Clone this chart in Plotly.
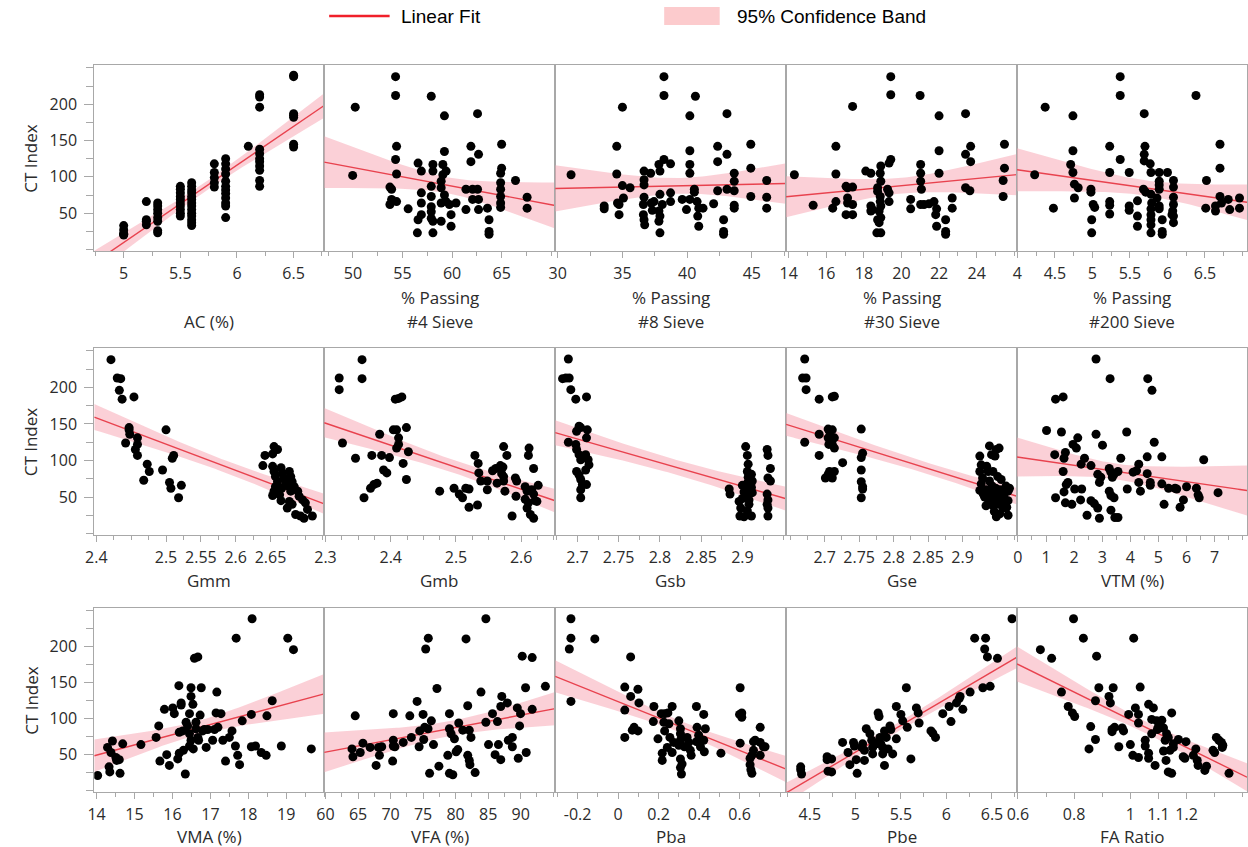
import numpy as np
import plotly.graph_objects as go

W, H = 1248, 847

# ---------------- data: (x, CT Index) pairs ----------------
AC = [(5.0,33),(5.0,27),(5.0,21),(5.0,20),(5.0,22),
      (5.2,66),(5.2,41),(5.2,39),(5.2,34),
      (5.3,64),(5.3,60),(5.3,55),(5.3,50),(5.3,44),(5.3,39),(5.3,26),(5.3,23),
      (5.5,87),(5.5,83),(5.5,78),(5.5,73),(5.5,69),(5.5,64),(5.5,60),(5.5,55),(5.5,50),(5.5,46),
      (5.6,92),(5.6,87),(5.6,82),(5.6,78),(5.6,73),(5.6,69),(5.6,64),(5.6,60),(5.6,55),(5.6,50),(5.6,46),(5.6,41),(5.6,37),(5.6,33),
      (5.8,118),(5.8,106),(5.8,99),(5.8,92),(5.8,86),
      (5.9,125),(5.9,118),(5.9,111),(5.9,104),(5.9,94),(5.9,87),(5.9,82),(5.9,77),(5.9,71),(5.9,64),(5.9,60),(5.9,44),
      (6.1,142),
      (6.2,213),(6.2,210),(6.2,196),(6.2,138),(6.2,132),(6.2,125),(6.2,121),(6.2,115),(6.2,109),(6.2,95),(6.2,87),
      (6.5,238),(6.5,240),(6.5,187),(6.5,185),(6.5,182),(6.5,145),(6.5,141)]

SIEVE4 = [(50.23,196),(49.97,102),(54.30,238),(54.30,212),(54.40,142),(54.30,124),(54.40,104),(53.73,86),(53.90,83),
          (53.73,62),(53.90,69),(54.40,66),(55.57,56),(56.50,23),(56.57,41),
          (56.57,119),(56.90,108),(56.90,78),(56.90,64),(56.90,48),
          (57.90,211),(58.07,117),(58.07,108),(57.90,87),(57.90,73),(57.90,59),(57.90,52),(57.90,43),(58.07,39),(58.07,23),
          (59.07,117),(59.07,103),(58.90,94),(58.90,85),(58.90,64),(58.90,39),
          (59.23,184),(59.23,135),(59.40,108),(59.23,75),(59.40,66),(59.73,62),(59.90,48),(59.90,32),
          (60.40,64),(61.40,83),(61.40,55),(61.90,142),(61.90,121),(62.07,83),(62.07,69),
          (62.57,187),(62.67,131),(62.57,83),(62.67,69),(62.67,55),
          (63.57,57),(63.73,41),(63.73,25),(63.73,21),
          (65.00,145),(65.00,112),(64.90,105),(64.90,92),(64.90,83),(64.90,73),(64.90,64),(64.90,58),
          (66.40,95),(67.57,72),(67.57,57)]

SIEVE8 = [(31.03,103),(33.59,60),(33.59,56),(34.56,142),(34.56,104),(34.62,64),(34.74,62),(34.74,48),(35.00,196),
          (35.00,88),(35.08,71),(35.59,85),(36.67,108),(36.67,96),(36.67,89),(36.67,72),(36.62,62),(36.62,48),
          (36.67,41),(36.72,34),(37.18,105),(37.23,64),(37.31,54),(37.44,66),(37.82,117),(37.90,108),(37.90,76),
          (37.82,53),(37.90,46),(37.82,39),(37.90,23),(38.08,62),(38.21,124),(38.21,238),(38.21,212),(38.72,118),
          (38.72,78),(38.72,66),(39.62,69),(39.95,55),(40.21,184),(40.21,136),(40.21,117),(40.21,105),(40.21,69),
          (40.64,211),(40.56,83),(40.56,79),(40.77,66),(40.90,57),(40.82,46),(40.90,32),(41.23,57),(42.05,63),
          (42.36,142),(42.36,121),(42.36,81),(42.82,41),(42.82,25),(42.82,21),(43.08,187),(43.08,131),(43.08,83),
          (43.64,105),(43.64,94),(43.64,81),(43.64,61),(43.64,57),(44.92,145),(44.92,112),(44.92,73),
          (46.15,95),(46.15,72),(46.15,57)]

SIEVE30 = [(14.30,103),(15.30,61),(16.34,57),(16.51,142),(16.51,104),(16.51,66),(17.05,87),(17.13,85),(17.40,86),
           (17.13,71),(17.13,64),(17.05,48),(17.40,62),(17.40,48),(17.40,197),(18.10,108),(18.37,105),(18.37,60),
           (18.37,53),(18.46,55),(18.73,80),(18.73,85),(18.90,94),(18.87,105),(18.90,115),(18.73,41),(18.81,37),
           (18.90,44),(18.69,23),(18.90,23),(18.81,53),(18.90,60),(18.87,66),(18.87,73),(19.34,119),(19.43,124),
           (19.34,78),(19.26,83),(19.34,66),(19.43,238),(19.43,213),(20.49,69),(20.49,56),(20.99,212),(21.02,117),
           (21.02,105),(21.02,94),(21.06,83),(21.02,62),(21.20,62),(21.47,63),(21.73,66),(21.87,56),(21.82,48),
           (22.00,184),(22.00,136),(22.00,105),(21.87,32),(22.35,41),(22.35,25),(22.35,21),(22.70,71),(22.70,57),
           (23.41,187),(23.41,131),(23.41,85),(23.64,81),(23.68,142),(23.68,121),(25.48,145),(25.48,112),
           (25.41,95),(25.41,73)]

SIEVE200 = [(4.23,103),(4.37,196),(4.48,57),(4.74,184),(4.74,136),(4.71,117),(4.74,106),(4.76,90),(4.81,85),(4.76,71),
            (4.98,83),(4.98,79),(5.01,62),(5.03,58),(4.99,41),(4.99,23),(5.23,142),(5.23,106),(5.23,66),(5.23,61),
            (5.23,49),(5.37,238),(5.37,212),(5.37,124),(5.49,106),(5.49,60),(5.49,54),(5.60,67),(5.60,46),(5.60,32),
            (5.69,187),(5.70,142),(5.69,131),(5.69,122),(5.77,118),(5.78,106),(5.68,83),(5.71,79),(5.78,76),(5.79,64),
            (5.78,56),(5.78,48),(5.78,41),(5.78,34),(5.78,23),(5.89,106),(5.89,94),(5.89,89),(5.89,83),(5.86,71),
            (5.89,60),(5.89,56),(5.93,41),(5.93,25),(5.93,21),(6.00,106),(6.08,95),(6.08,86),(6.08,72),(6.08,62),
            (6.07,53),(6.08,46),(6.08,37),(6.06,48),(6.38,212),(6.52,95),(6.51,57),(6.64,60),(6.64,53),(6.70,145),
            (6.70,112),(6.70,73),(6.72,64),(6.81,69),(6.83,55),(6.96,71),(6.96,57)]

GMM = [(2.421,238),(2.430,213),(2.435,212),(2.433,196),(2.437,184),(2.454,187),(2.447,145),(2.447,142),(2.448,136),
       (2.442,124),(2.459,131),(2.459,122),(2.456,115),(2.459,107),(2.473,95),(2.468,73),(2.476,85),(2.495,87),
       (2.500,142),(2.509,103),(2.511,107),(2.505,70),(2.507,62),(2.518,49),(2.522,66),
       (2.639,93),(2.642,107),(2.653,109),(2.655,119),(2.660,115),
       (2.653,92),(2.655,85),(2.657,78),(2.660,71),(2.657,64),(2.655,58),(2.653,52),
       (2.665,90),(2.667,83),(2.669,76),(2.672,69),(2.666,62),(2.663,53),(2.665,45),
       (2.677,85),(2.679,78),(2.681,71),(2.677,64),(2.679,58),(2.677,44),(2.674,35),
       (2.684,64),(2.689,58),(2.691,51),(2.681,40),
       (2.696,46),(2.700,42),(2.686,26),(2.693,24),(2.698,21),(2.703,33),(2.710,24)]

GMB = [(2.321,213),(2.321,197),(2.326,124),(2.356,238),(2.356,212),(2.359,49),(2.346,103),(2.371,107),(2.369,62),
       (2.374,67),(2.379,69),(2.383,136),(2.386,107),(2.389,87),(2.394,83),(2.398,104),(2.404,142),(2.409,142),
       (2.407,184),(2.412,185),(2.417,187),(2.412,131),(2.412,122),(2.409,117),(2.419,96),(2.424,145),(2.424,74),
       (2.427,112),
       (2.475,58),(2.497,62),(2.505,54),(2.510,49),(2.515,62),(2.520,61),(2.520,36),(2.529,107),(2.534,96),
       (2.533,39),(2.535,83),(2.538,72),(2.548,72),(2.548,60),(2.556,86),(2.561,89),(2.563,69),(2.568,93),
       (2.572,91),(2.573,78),(2.573,72),(2.575,58),(2.573,119),(2.578,107),(2.570,82),(2.586,24),(2.591,76),
       (2.593,72),(2.592,51),(2.606,64),(2.609,58),(2.606,47),(2.611,42),(2.609,35),(2.612,117),(2.611,107),
       (2.614,26),(2.619,21),(2.619,89),(2.616,60),(2.619,54),(2.621,45),(2.626,66),(2.624,44)]

GSB = [(2.689,239),(2.682,212),(2.686,213),(2.690,213),(2.692,197),(2.698,184),(2.711,187),(2.689,125),(2.699,140),
       (2.702,147),(2.704,145),(2.712,142),(2.711,131),(2.698,122),(2.699,115),(2.702,108),(2.704,101),(2.710,108),
       (2.713,101),(2.714,94),(2.699,85),(2.702,80),(2.704,74),(2.706,67),(2.704,60),(2.710,87),(2.711,67),(2.704,49),
       (2.884,61),(2.885,54),(2.896,44),(2.898,35),(2.897,24),
       (2.904,119),(2.906,107),(2.907,95),(2.906,85),(2.907,77),(2.906,69),(2.908,61),(2.906,54),(2.908,46),
       (2.908,40),(2.906,31),(2.902,23),(2.900,66),(2.902,57),(2.900,48),
       (2.911,81),(2.912,72),(2.911,63),(2.912,56),(2.911,24),
       (2.930,115),(2.931,107),(2.934,89),(2.931,76),(2.934,72),(2.930,54),(2.931,46),(2.930,40),(2.931,35),(2.931,24)]

GSE = [(2.671,239),(2.668,213),(2.673,213),(2.673,197),(2.692,184),(2.711,187),(2.671,125),(2.692,136),(2.692,107),
       (2.705,143),(2.707,140),(2.706,122),(2.705,131),(2.701,76),(2.705,81),(2.707,85),
       (2.714,188),(2.711,142),(2.714,131),(2.711,122),(2.714,117),(2.726,97),(2.714,85),(2.711,76),
       (2.753,143),(2.755,110),(2.753,104),(2.753,87),(2.753,71),(2.755,64),(2.755,61),(2.753,49),
       (2.925,106),(2.927,94),(2.925,85),(2.929,76),(2.927,68),(2.925,59),(2.930,54),
       (2.935,92),(2.937,85),(2.934,38),
       (2.939,120),(2.942,108),(2.944,85),(2.939,72),(2.943,65),(2.939,49),
       (2.947,106),(2.949,115),
       (2.953,117),(2.951,78),(2.954,60),(2.951,54),(2.949,47),
       (2.956,74),(2.958,41),(2.954,27),(2.949,23),
       (2.963,65),(2.966,58),(2.966,45),(2.966,25),(2.959,35),(2.968,62),
       (2.932,50),(2.945,55),(2.938,44),(2.952,40),(2.960,50),(2.944,38),(2.948,62),(2.956,57),
       (2.962,42),(2.935,60),(2.941,52),(2.957,48),(2.964,36),(2.946,30)]

VTM = [(1.02,141),(1.34,184),(1.61,187),(1.31,108),(1.55,139),(1.69,111),(1.64,103),(1.61,85),(1.34,49),(1.64,57),
       (1.72,67),(1.69,42),(1.92,40),(1.78,70),(2.02,61),(1.96,122),(2.13,131),(2.08,117),(2.27,61),(2.23,46),
       (2.37,103),(2.25,95),(2.46,25),(2.60,93),(2.60,45),(2.72,41),(2.78,136),(2.78,239),(2.84,35),(2.90,21),
       (2.84,81),(2.90,70),(2.95,77),(3.01,121),(3.28,212),(3.25,89),(3.31,84),(3.36,77),(3.42,81),(3.25,58),
       (3.31,52),(3.42,49),(3.31,32),(3.45,22),(3.56,22),(3.56,85),(3.66,103),(3.87,139),(3.89,61),(4.10,84),
       (4.22,86),(4.30,95),(4.30,70),(4.36,58),(4.62,212),(4.77,196),(4.85,125),(4.60,105),(4.60,82),(4.71,70),
       (4.71,66),(5.12,105),(5.12,68),(5.20,40),(5.36,62),(5.59,62),(5.65,61),(5.77,36),(5.89,46),(6.00,64),
       (6.35,62),(6.41,53),(6.45,49),(6.61,101),(7.12,56)]

VMA = [(14.03,21),(14.29,60),(14.33,33),(14.35,26),(14.38,53),(14.42,69),(14.51,46),(14.53,42),(14.60,43),(14.62,24),
       (14.69,65),(15.17,64),(15.57,74),(15.64,90),(15.67,41),(15.85,50),(15.79,113),(15.92,35),(16.01,115),
       (16.05,107),(16.14,44),(16.18,52),(16.17,146),(16.23,119),(16.23,122),(16.18,81),(16.27,83),(16.29,56),
       (16.34,23),(16.36,95),(16.40,90),(16.45,79),(16.45,107),(16.49,143),(16.49,131),(16.54,120),(16.49,70),
       (16.45,62),(16.55,58),(16.58,184),(16.67,186),(16.62,95),(16.62,86),(16.67,74),(16.69,70),(16.73,105),
       (16.76,143),(16.80,83),(16.84,85),(16.93,85),(16.89,60),(17.06,70),(17.15,108),(17.17,137),(17.20,88),
       (17.11,85),(17.28,107),(17.33,70),(17.40,41),(17.50,74),(17.57,83),(17.68,212),(17.66,62),(17.72,49),
       (17.77,36),(17.84,97),(18.08,106),(18.10,239),(18.08,61),(18.19,62),(18.34,53),(18.47,49),(18.49,104),
       (18.63,125),(18.87,62),(19.04,212),(19.19,196),(19.66,58)]

VFA = [(64.57,104),(64.07,58),(64.22,47),(65.34,53),(65.75,66),(66.86,60),(67.78,35),(68.14,60),(68.29,49),(68.64,61),
       (70.42,107),(70.42,70),(70.42,62),(70.32,41),(70.67,61),(71.95,67),(72.96,104),(73.20,74),(74.08,124),
       (74.39,61),(74.48,83),(75.00,106),(75.24,88),(75.80,212),(75.40,197),(75.10,71),
       (76.27,97),(75.76,86),(76.60,64),(77.13,142),(77.43,34),(76.00,24),(79.05,107),(78.80,49),(79.05,86),
       (79.30,79),(79.82,72),(79.05,24),(79.57,22),(80.08,54),(80.33,57),(80.48,94),(81.10,84),(81.60,211),
       (81.86,118),(82.10,84),(82.36,74),(81.86,49),(82.10,42),(82.20,36),(83.00,25),(83.90,137),(84.65,239),
       (84.65,95),(85.06,64),(85.67,107),(86.07,50),(86.94,43),(86.43,96),(86.58,64),(87.10,131),(86.94,117),
       (87.95,122),(88.10,70),(88.72,74),(88.72,61),(89.48,115),(89.83,90),(89.63,45),(89.98,107),(90.24,187),
       (90.75,143),(90.85,53),(91.77,185),(91.77,113),(93.80,145)]

PBA = [(-0.233,239),(-0.233,212),(-0.241,197),(-0.233,124),(-0.115,211),(0.033,144),(0.033,112),(0.033,74),
       (0.062,186),(0.062,131),(0.079,88),(0.070,84),(0.098,141),(0.103,122),(0.098,83),(0.177,117),(0.174,96),
       (0.197,72),(0.213,107),(0.230,107),(0.246,108),(0.218,52),(0.218,42),(0.226,95),(0.230,83),(0.243,60),
       (0.256,74),(0.251,93),(0.267,117),(0.267,53),(0.275,67),(0.300,97),(0.308,86),(0.308,79),(0.308,70),
       (0.300,63),(0.308,44),(0.316,37),(0.308,32),(0.313,23),(0.328,61),(0.341,74),(0.349,67),(0.357,56),
       (0.361,49),(0.387,117),(0.390,88),(0.398,77),(0.387,68),(0.407,61),(0.423,106),(0.431,86),(0.423,70),
       (0.426,54),(0.508,52),(0.603,143),(0.600,106),(0.611,108),(0.611,102),(0.603,66),(0.652,45),(0.661,49),
       (0.669,56),(0.652,36),(0.656,29),(0.661,24),(0.669,68),(0.677,70),(0.702,88),(0.702,67),(0.702,49),
       (0.718,61),(0.726,61)]

PBE = [(4.40,33),(4.40,29),(4.41,23),(4.69,47),(4.69,43),(4.70,27),(4.74,44),(4.74,26),(4.86,67),(4.92,53),(4.94,36),
       (4.98,67),(4.99,62),(5.01,43),(5.02,24),(5.07,60),(5.08,65),(5.10,56),(5.10,42),(5.12,86),(5.16,79),(5.18,70),
       (5.19,60),(5.19,51),(5.25,108),(5.26,103),(5.23,65),(5.27,74),(5.28,65),(5.30,60),(5.30,51),(5.32,35),
       (5.32,83),(5.34,74),(5.38,90),(5.39,85),(5.36,58),(5.41,51),(5.45,117),(5.45,72),(5.50,106),(5.52,97),
       (5.56,143),(5.57,88),(5.61,44),(5.67,115),(5.69,108),(5.70,94),(5.83,83),(5.85,80),(5.88,74),(5.96,107),
       (6.03,117),(6.05,96),(6.11,122),(6.14,128),(6.15,131),(6.18,113),(6.26,137),(6.31,212),(6.40,143),
       (6.42,197),(6.43,212),(6.45,186),(6.48,145),(6.56,184),(6.72,239)]

FA = [(0.680,196),(0.720,184),(0.755,137),(0.779,117),(0.794,108),(0.802,103),(0.798,239),(0.833,212),(0.859,89),
      (0.853,58),(0.876,71),(0.880,187),(0.876,125),(0.888,143),(0.924,131),(0.929,122),(0.939,143),(0.935,85),
      (0.944,88),(0.935,82),(0.959,61),(0.971,87),(0.976,83),(0.994,106),(1.000,64),(1.009,49),(1.012,212),
      (1.018,115),(1.029,106),(1.029,46),(1.035,144),(1.029,94),(1.053,70),(1.053,62),(1.065,120),(1.065,52),
      (1.065,45),(1.082,115),(1.076,99),(1.076,79),(1.088,35),(1.094,97),(1.100,89),(1.096,85),(1.112,98),
      (1.118,87),(1.118,55),(1.124,70),(1.129,79),(1.135,74),(1.127,42),(1.135,26),(1.147,24),(1.141,56),
      (1.153,60),(1.147,108),(1.153,65),(1.171,71),(1.188,47),(1.194,45),(1.198,68),(1.224,49),(1.233,58),
      (1.238,42),(1.241,35),(1.265,28),(1.271,34),(1.294,56),(1.300,53),(1.306,74),(1.315,70),(1.324,67),
      (1.327,60),(1.329,63),(1.351,24)]

# axis tick labels
Y_TICKS = [50, 100, 150, 200]
Y_MINOR = [0, 25, 75, 125, 175, 225, 250]

# ---------------- panel configuration ----------------
PANELS = [
    dict(pts=AC, rng=[4.74, 6.77], ticks=[5, 5.5, 6, 6.5], step=0.25, title=["", "AC (%)"]),
    dict(pts=SIEVE4, rng=[47.1, 70.4], ticks=[50, 55, 60, 65], step=2.5, title=["% Passing", "#4 Sieve"]),
    dict(pts=SIEVE8, rng=[29.8, 47.65], ticks=[30, 35, 40, 45], step=2.5, title=["% Passing", "#8 Sieve"]),
    dict(pts=SIEVE30, rng=[13.86, 26.15], ticks=[14, 16, 18, 20, 22, 24], step=1, title=["% Passing", "#30 Sieve"]),
    dict(pts=SIEVE200, rng=[3.995, 7.06], ticks=[4, 4.5, 5, 5.5, 6, 6.5], step=0.25, title=["% Passing", "#200 Sieve"]),
    dict(pts=GMM, rng=[2.397, 2.727], ticks=[2.4, 2.5, 2.55, 2.6, 2.65], step=0.025, title=["Gmm"]),
    dict(pts=GMB, rng=[2.298, 2.652], ticks=[2.3, 2.4, 2.5, 2.6], step=0.025, title=["Gmb"]),
    dict(pts=GSB, rng=[2.673, 2.953], ticks=[2.7, 2.75, 2.8, 2.85, 2.9], step=0.025, title=["Gsb"]),
    dict(pts=GSE, rng=[2.644, 2.979], ticks=[2.7, 2.75, 2.8, 2.85, 2.9], step=0.025, title=["Gse"]),
    dict(pts=VTM, rng=[-0.03, 8.15], ticks=[0, 1, 2, 3, 4, 5, 6, 7], step=0.5, title=["VTM (%)"]),
    dict(pts=VMA, rng=[13.94, 20.0], ticks=[14, 15, 16, 17, 18, 19], step=0.5, title=["VMA (%)"]),
    dict(pts=VFA, rng=[59.8, 95.3], ticks=[60, 65, 70, 75, 80, 85, 90], step=2.5, title=["VFA (%)"]),
    dict(pts=PBA, rng=[-0.311, 0.83], ticks=[-0.2, 0, 0.2, 0.4, 0.6], step=0.1, title=["Pba"]),
    dict(pts=PBE, rng=[4.24, 6.775], ticks=[4.5, 5, 5.5, 6, 6.5], step=0.25, title=["Pbe"]),
    dict(pts=FA, rng=[0.597, 1.415], ticks=[0.6, 0.8, 1, 1.1, 1.2], step=0.1, title=["FA Ratio"]),
]

# ---------------- geometry (pixels) ----------------
COL_X = [85, 317, 550, 783, 1016, 1248]
ROW_Y = [(65, 251), (348, 535), (608, 792)]
Y_RANGE = [-2, 254]
TITLE_Y = [(297, 321), (580,), (836,)]

FONT = "Open Sans, Noto Sans, DejaVu Sans, sans-serif"
TXT = "#2b2b2b"
BORDER = "#a8a8a8"
RED = "#e8424e"
BAND = "rgba(248,170,182,0.55)"
T95 = 1.99

fig = go.Figure()
layout = dict(
    width=W, height=H, margin=dict(l=0, r=0, t=0, b=0),
    paper_bgcolor="white", plot_bgcolor="white", showlegend=False,
    font=dict(family=FONT, size=16, color=TXT),
)
annotations = []
shapes = []

def px_x(x):
    return x / W

def px_y(y):
    return 1 - y / H

for i, p in enumerate(PANELS):
    r, c = divmod(i, 5)
    sfx = "" if i == 0 else str(i + 1)
    xa, ya = "x" + sfx, "y" + sfx
    x = np.array([q[0] for q in p["pts"]], dtype=float)
    y = np.array([q[1] for q in p["pts"]], dtype=float)

    # least-squares fit and 95% confidence band of the mean
    n = len(x)
    b1, b0 = np.polyfit(x, y, 1)
    resid = y - (b0 + b1 * x)
    s = np.sqrt(np.sum(resid ** 2) / (n - 2))
    xm = x.mean()
    sxx = np.sum((x - xm) ** 2)
    xs = np.linspace(p["rng"][0], p["rng"][1], 100)
    yhat = b0 + b1 * xs
    se = s * np.sqrt(1.0 / n + (xs - xm) ** 2 / sxx)
    lo, hi = yhat - T95 * se, yhat + T95 * se

    fig.add_trace(go.Scatter(x=np.concatenate([xs, xs[::-1]]), y=np.concatenate([hi, lo[::-1]]),
                             fill="toself", fillcolor=BAND, line=dict(width=0), mode="lines",
                             hoverinfo="skip", xaxis=xa, yaxis=ya))
    fig.add_trace(go.Scatter(x=xs, y=yhat, mode="lines", line=dict(color=RED, width=1.4),
                             hoverinfo="skip", xaxis=xa, yaxis=ya))
    fig.add_trace(go.Scatter(x=x, y=y, mode="markers", marker=dict(color="black", size=9, line=dict(width=0)),
                             xaxis=xa, yaxis=ya))

    top, bot = ROW_Y[r]
    x0, x1 = COL_X[c], COL_X[c + 1]
    st = p["step"]
    k0 = np.ceil(p["rng"][0] / st - 1e-6)
    k1 = np.floor(p["rng"][1] / st + 1e-6)
    minor_vals = [round(k * st, 6) for k in np.arange(k0, k1 + 1)]
    minor_vals = [v for v in minor_vals if all(abs(v - t) > 1e-6 for t in p["ticks"])]

    layout["xaxis" + sfx] = dict(
        domain=[px_x(x0), px_x(x1)], anchor=ya, range=p["rng"],
        tickmode="array", tickvals=p["ticks"], ticktext=[f"{t:g}" for t in p["ticks"]],
        ticks="outside", ticklen=6, tickcolor=BORDER, tickwidth=1,
        minor=dict(tickmode="array", tickvals=minor_vals, ticks="outside", ticklen=4, tickcolor=BORDER, tickwidth=1),
        showline=True, linecolor=BORDER, linewidth=1, mirror=True,
        showgrid=False, zeroline=False, tickfont=dict(size=16, color=TXT), ticklabelstandoff=2,
    )
    yax = dict(
        domain=[px_y(bot), px_y(top)], anchor=xa, range=Y_RANGE,
        showline=True, linecolor=BORDER, linewidth=1, mirror=True,
        showgrid=False, zeroline=False,
    )
    if c == 0:
        yax.update(tickmode="array", tickvals=Y_TICKS, ticks="outside", ticklen=9, tickcolor=BORDER,
                   minor=dict(tickmode="array", tickvals=Y_MINOR, ticks="outside", ticklen=7, tickcolor=BORDER),
                   tickfont=dict(size=16, color=TXT), ticklabelstandoff=4)
    else:
        yax.update(showticklabels=False, ticks="")
    layout["yaxis" + sfx] = yax

    # x-axis titles
    xc = px_x((x0 + x1) / 2)
    lines = p["title"]
    ys = TITLE_Y[r]
    if len(ys) == 2:
        for txt, yy in zip(lines, ys):
            if txt:
                annotations.append(dict(text=txt, x=xc, y=px_y(yy), xref="paper", yref="paper",
                                        xanchor="center", yanchor="middle", showarrow=False,
                                        font=dict(size=17, color=TXT)))
    else:
        annotations.append(dict(text=lines[0], x=xc, y=px_y(ys[0]), xref="paper", yref="paper",
                                xanchor="center", yanchor="middle", showarrow=False,
                                font=dict(size=17, color=TXT)))

# y-axis titles
for top, bot in ROW_Y:
    annotations.append(dict(text="CT Index", x=px_x(21), y=px_y((top + bot) / 2), xref="paper", yref="paper",
                            xanchor="center", yanchor="middle", textangle=-90, showarrow=False,
                            font=dict(size=17, color=TXT)))

# legend (top)
LEG_FONT = "Liberation Sans, Arial, sans-serif"
shapes.append(dict(type="line", xref="paper", yref="paper", x0=px_x(322), x1=px_x(383), y0=px_y(16), y1=px_y(16),
                   line=dict(color="#f0202a", width=2.5)))
shapes.append(dict(type="rect", xref="paper", yref="paper", x0=px_x(660), x1=px_x(716), y0=px_y(25), y1=px_y(7),
                   fillcolor="#fccbcd", line=dict(width=0)))
annotations.append(dict(text="Linear Fit", x=px_x(392), y=px_y(16), xref="paper", yref="paper",
                        xanchor="left", yanchor="middle", showarrow=False,
                        font=dict(family=LEG_FONT, size=19, color="black")))
annotations.append(dict(text="95% Confidence Band", x=px_x(731), y=px_y(16), xref="paper", yref="paper",
                        xanchor="left", yanchor="middle", showarrow=False,
                        font=dict(family=LEG_FONT, size=19, color="black")))

layout["annotations"] = annotations
layout["shapes"] = shapes
fig.update_layout(**layout)
fig.write_html("out.html", config={"displayModeBar": False},
               post_script="document.body.style.margin='0px';document.body.style.overflow='hidden';")
